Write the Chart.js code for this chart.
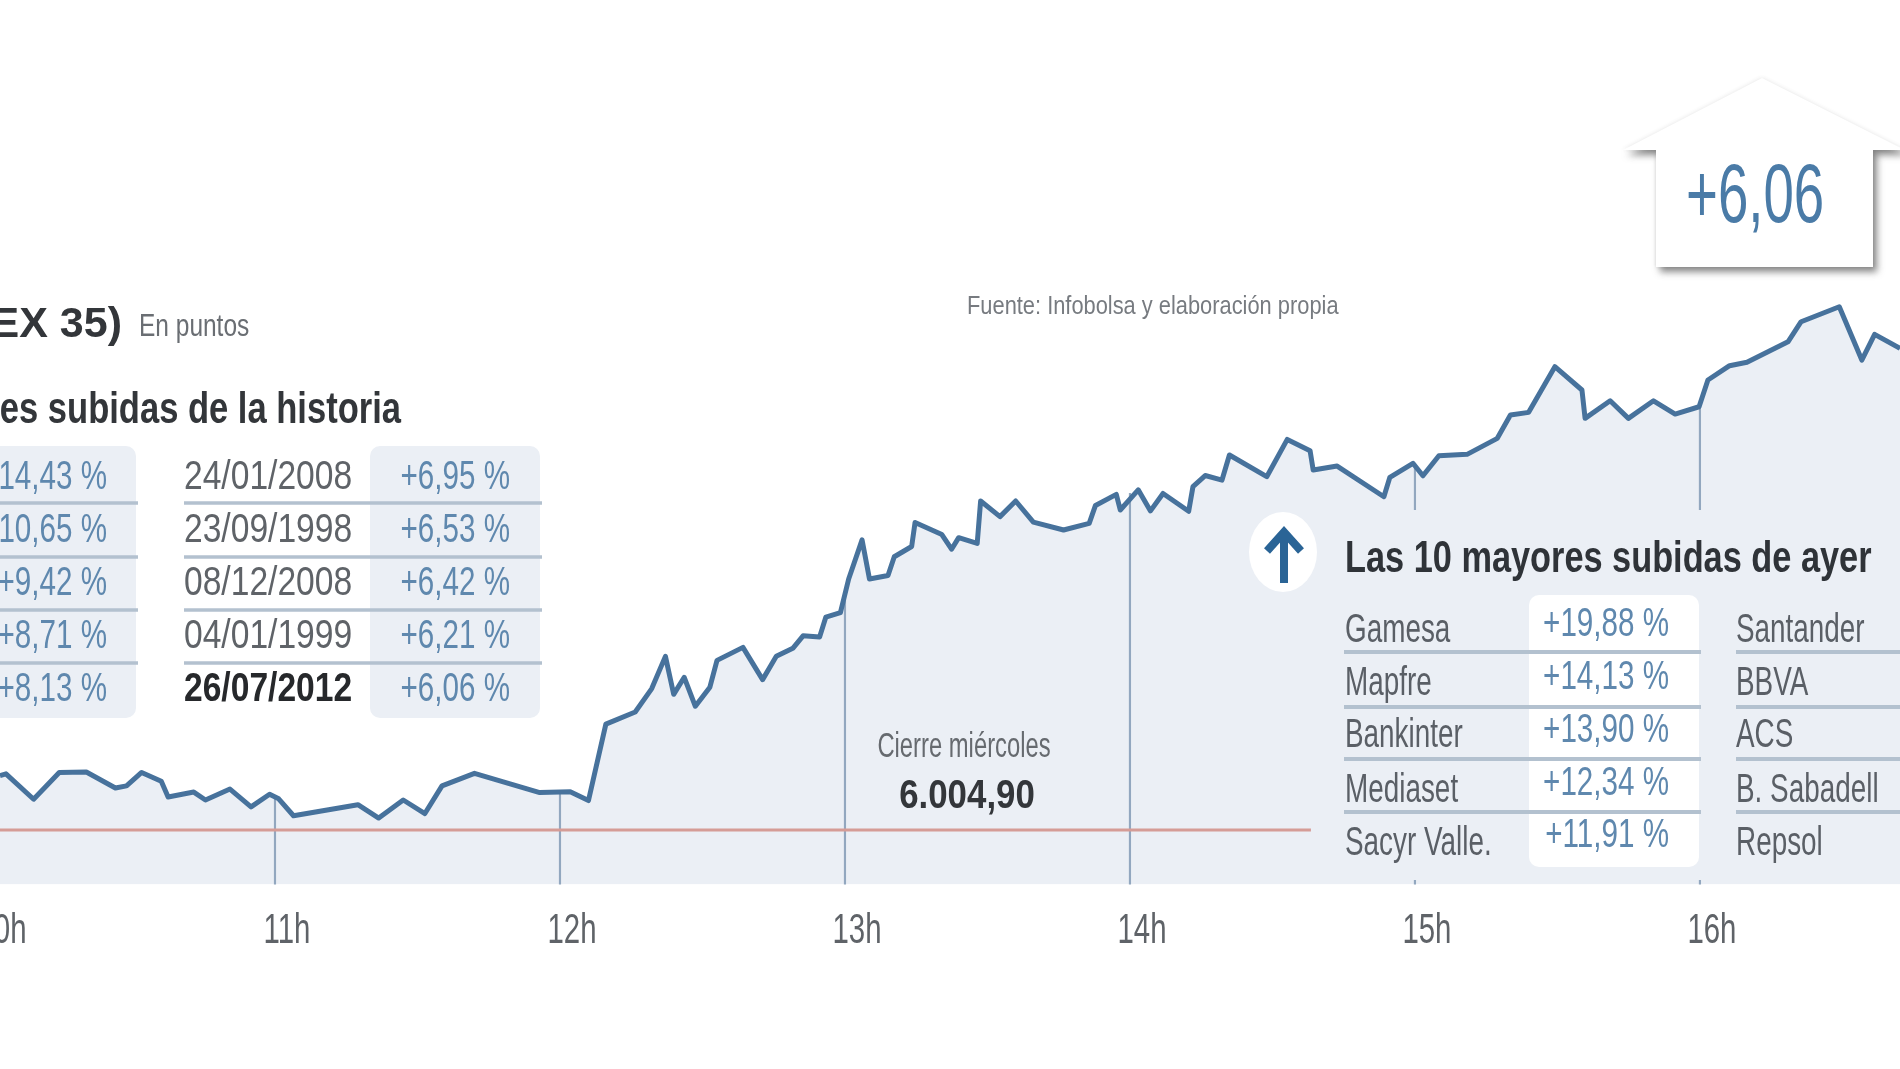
<!DOCTYPE html>
<html lang="es">
<head>
<meta charset="utf-8">
<title>IBEX 35</title>
<script src="https://cdn.jsdelivr.net/npm/chart.js@4/dist/chart.umd.min.js"></script>
<style>
  html, body { margin: 0; padding: 0; width: 1900px; height: 1069px; overflow: hidden; background: #fff; }
  #ibex-chart { position: absolute; left: -10px; top: 0; filter: blur(0.7px); }
</style>
</head>
<body>
<canvas id="ibex-chart" width="1910" height="1069"></canvas>
<script>
// Hours of the session (decimal) and index level
const times = [
  10.035, 10.056, 10.153, 10.243, 10.338, 10.440, 10.479, 10.532, 10.601, 10.625,
  10.715, 10.756, 10.842, 10.916, 10.981, 11.013, 11.065, 11.291, 11.364, 11.450,
  11.526, 11.586, 11.700, 11.929, 12.036, 12.100, 12.161, 12.264, 12.322, 12.370,
  12.399, 12.436, 12.475, 12.526, 12.551, 12.642, 12.711, 12.759, 12.817, 12.853,
  12.911, 12.933, 12.984, 13.013, 13.060, 13.086, 13.151, 13.173, 13.234, 13.246,
  13.340, 13.374, 13.399, 13.464, 13.476, 13.544, 13.599, 13.661, 13.767, 13.857,
  13.879, 13.952, 13.966, 14.029, 14.072, 14.116, 14.206, 14.221, 14.264, 14.323,
  14.349, 14.480, 14.552, 14.632, 14.643, 14.727, 14.891, 14.912, 14.993, 15.028,
  15.084, 15.183, 15.289, 15.335, 15.399, 15.491, 15.586, 15.597, 15.685, 15.749,
  15.837, 15.913, 15.997, 16.028, 16.104, 16.165, 16.309, 16.355, 16.489, 16.568,
  16.613, 16.702,
];
const points = [
  6046.8, 6048.1, 6028.6, 6049.2, 6049.5, 6037.2, 6038.9, 6049.2, 6042.4, 6030.3,
  6034.1, 6028.0, 6036.4, 6022.7, 6032.4, 6028.9, 6015.9, 6024.4, 6014.1, 6028.0,
  6017.6, 6038.9, 6048.5, 6033.7, 6034.4, 6027.6, 6086.4, 6095.7, 6113.7, 6138.5,
  6109.3, 6122.4, 6100.1, 6114.8, 6135.4, 6145.4, 6120.6, 6138.5, 6144.7, 6154.3,
  6153.3, 6168.7, 6172.1, 6198.0, 6228.1, 6198.0, 6200.7, 6215.1, 6223.0, 6241.5,
  6232.2, 6220.9, 6229.8, 6225.4, 6258.0, 6246.0, 6258.0, 6241.8, 6235.7, 6240.8,
  6254.6, 6263.1, 6251.1, 6266.6, 6250.4, 6263.8, 6250.1, 6269.0, 6277.6, 6274.1,
  6293.4, 6276.7, 6305.4, 6296.7, 6281.8, 6284.9, 6261.3, 6276.2, 6287.0, 6277.4,
  6292.8, 6293.9, 6306.2, 6324.1, 6326.2, 6361.3, 6343.4, 6321.6, 6335.1, 6321.6,
  6335.1, 6324.9, 6330.5, 6351.1, 6362.1, 6364.7, 6380.5, 6395.9, 6407.4, 6366.4,
  6386.2, 6375.4,
];

const hourLabels = ["10h", "11h", "12h", "13h", "14h", "15h", "16h"];
const dropHours = [11, 12, 13, 14, 15, 16];
const dropLevels = [6029, 6034, 6185, 6264, 6285, 6330];

const closeTimes = [10, 14.635];
const closeLevels = [6004.9, 6004.9];

const historyRisesLeft = ["+14,43 %", "+10,65 %", "+9,42 %", "+8,71 %", "+8,13 %"];
const historyDates = ["24/01/2008", "23/09/1998", "08/12/2008", "04/01/1999", "26/07/2012"];
const historyRisesRight = ["+6,95 %", "+6,53 %", "+6,42 %", "+6,21 %", "+6,06 %"];

const topNames = ["Gamesa", "Mapfre", "Bankinter", "Mediaset", "Sacyr Valle."];
const topRises = ["+19,88 %", "+14,13 %", "+13,90 %", "+12,34 %", "+11,91 %"];
const nextNames = ["Santander", "BBVA", "ACS", "B. Sabadell", "Repsol"];

const BLUE = "#47729c";
const BAND = "#ebeff5";
const RULE = "#b3c1cf";

const label = (ctx, text, x, y, size, opts = {}) => {
  ctx.save();
  ctx.translate(x, y);
  ctx.scale(opts.squeeze || 1, 1);
  ctx.font = `${opts.bold ? "bold " : ""}${size}px "Liberation Sans"`;
  ctx.fillStyle = opts.color || "#5a5f66";
  ctx.textAlign = opts.align || "left";
  ctx.textBaseline = "alphabetic";
  ctx.fillText(text, 0, 0);
  ctx.restore();
};

const pill = (ctx, x, y, w, h, color) => {
  ctx.fillStyle = color;
  ctx.beginPath();
  ctx.roundRect(x, y, w, h, 10);
  ctx.fill();
};

const rules = (ctx, x0, x1, ys, width) => {
  ctx.strokeStyle = RULE;
  ctx.lineWidth = width;
  ys.forEach((y) => {
    ctx.beginPath();
    ctx.moveTo(x0, y);
    ctx.lineTo(x1, y);
    ctx.stroke();
  });
};

const housePath = (ctx) => {
  ctx.beginPath();
  ctx.moveTo(1762, 78);
  ctx.lineTo(1905, 150);
  ctx.lineTo(1873, 150);
  ctx.lineTo(1873, 267);
  ctx.lineTo(1656, 267);
  ctx.lineTo(1656, 150);
  ctx.lineTo(1623, 150);
  ctx.closePath();
};

// Everything around the curve: the house, the two tables and the notes
const annotations = {
  id: "annotations",
  afterDraw(chart) {
    const ctx = chart.ctx;
    const xScale = chart.scales.x;

    // hour labels come from the x scale, squeezed like the newspaper type
    xScale.ticks.forEach((tick) => {
      label(ctx, tick.label, xScale.getPixelForValue(tick.value) + 12, 943, 42, {
        squeeze: 0.7,
        align: "center",
        color: "#5f6368",
      });
    });

    ctx.save();
    ctx.translate(10, 0); // page coordinates

    // the table sits on top of the 15h and 16h lines
    ctx.fillStyle = BAND;
    ctx.fillRect(1380, 510, 530, 370);

    // house with the day's rise: faint shadow on the roof, hard one under the walls
    ctx.save();
    ctx.shadowColor = "rgba(60,60,60,0.14)";
    ctx.shadowBlur = 4;
    ctx.fillStyle = "#fff";
    housePath(ctx);
    ctx.fill();
    ctx.restore();
    ctx.save();
    ctx.beginPath();
    ctx.rect(1600, 150, 320, 140);
    ctx.clip();
    ctx.shadowColor = "rgba(60,60,60,0.6)";
    ctx.shadowBlur = 7;
    ctx.shadowOffsetX = 4;
    ctx.shadowOffsetY = 5;
    ctx.fillStyle = "#fff";
    housePath(ctx);
    ctx.fill();
    ctx.restore();
    label(ctx, "+6,06", 1686, 222, 84, { squeeze: 0.65, color: "#4a7ba7" });

    label(ctx, "EX 35)", 122, 337, 43, { bold: true, align: "right", color: "#33363a" });
    label(ctx, "En puntos", 139, 336, 31, { squeeze: 0.79, color: "#6a6e73" });
    label(ctx, "Fuente: Infobolsa y elaboración propia", 967, 314, 26, { squeeze: 0.84, color: "#777b80" });

    // biggest rises in history
    label(ctx, "es subidas de la historia", 401, 423, 44, { bold: true, squeeze: 0.785, align: "right", color: "#33363a" });
    pill(ctx, -30, 446, 166, 272, BAND);
    pill(ctx, 370, 446, 170, 272, BAND);
    const historyBase = [489, 542, 595, 648, 701];
    const historyRules = [503, 557, 610, 663];
    rules(ctx, -30, 138, historyRules, 3.5);
    rules(ctx, 184, 542, historyRules, 3.5);
    historyBase.forEach((y, i) => {
      const last = i === historyBase.length - 1;
      label(ctx, historyRisesLeft[i], 107, y, 40, { squeeze: 0.74, align: "right", color: "#5f88ae" });
      label(ctx, historyDates[i], 184, y, 40, { squeeze: 0.84, bold: last, color: last ? "#26282b" : "#5f6368" });
      label(ctx, historyRisesRight[i], 510, y, 40, { squeeze: 0.74, align: "right", color: "#5f88ae" });
    });

    // wednesday close
    label(ctx, "Cierre miércoles", 964, 757, 35, { squeeze: 0.68, align: "center", color: "#666a6f" });
    label(ctx, "6.004,90", 967, 808, 41, { bold: true, squeeze: 0.85, align: "center", color: "#33363a" });

    // arrow badge
    ctx.fillStyle = "#fff";
    ctx.beginPath();
    ctx.ellipse(1283, 552, 34, 40, 0, 0, Math.PI * 2);
    ctx.fill();
    ctx.strokeStyle = "#2a6496";
    ctx.lineWidth = 8;
    ctx.beginPath();
    ctx.moveTo(1284, 583);
    ctx.lineTo(1284, 532);
    ctx.moveTo(1267, 551);
    ctx.lineTo(1284, 532);
    ctx.lineTo(1301, 551);
    ctx.stroke();

    // biggest rises of the day
    label(ctx, "Las 10 mayores subidas de ayer", 1345, 572, 44, { bold: true, squeeze: 0.78, color: "#2f3338" });
    pill(ctx, 1529, 595, 170, 272, "#fff");
    const topRules = [652, 707, 759, 812];
    rules(ctx, 1344, 1701, topRules, 4);
    rules(ctx, 1736, 1910, topRules, 4);
    const nameBase = [642, 695, 747, 802, 855];
    const riseBase = [636, 689, 742, 795, 847];
    nameBase.forEach((y, i) => {
      label(ctx, topNames[i], 1345, y, 41, { squeeze: 0.68 });
      label(ctx, nextNames[i], 1736, y, 41, { squeeze: 0.68 });
      label(ctx, topRises[i], 1669, riseBase[i], 40, { squeeze: 0.74, align: "right", color: "#5f88ae" });
    });

    ctx.restore();
  },
};

new Chart(document.getElementById("ibex-chart").getContext("2d"), {
  type: "line",
  data: {
    datasets: [
      {
        data: times.map((t, i) => ({ x: t, y: points[i] })),
        borderColor: BLUE,
        borderWidth: 5,
        borderJoinStyle: "round",
        backgroundColor: BAND,
        fill: "start",
        pointRadius: 0,
        tension: 0,
        order: 1,
      },
      {
        data: closeTimes.map((t, i) => ({ x: t, y: closeLevels[i] })),
        borderColor: "#d59c96",
        borderWidth: 3,
        pointRadius: 0,
        order: 2,
      },
      {
        type: "bar",
        data: dropHours.map((h, i) => ({ x: h, y: dropLevels[i] })),
        backgroundColor: "#92a7bf",
        barThickness: 1.5,
        order: 3,
      },
    ],
  },
  options: {
    responsive: false,
    animation: false,
    devicePixelRatio: 1,
    layout: { padding: 0, autoPadding: false },
    plugins: {
      legend: { display: false },
      tooltip: { enabled: false },
      filler: { drawTime: "beforeDatasetsDraw" },
    },
    scales: {
      x: {
        type: "linear",
        min: 10,
        max: 16.702,
        offset: false,
        grid: { display: false },
        border: { display: false },
        afterFit: (scale) => { scale.height = 184.5; },
        ticks: {
          display: false,
          stepSize: 1,
          autoSkip: false,
          includeBounds: false,
          maxRotation: 0,
          callback: (value) => hourLabels[value - 10],
        },
      },
      y: {
        display: false,
        min: 5963,
        max: 6643.4,
      },
    },
  },
  plugins: [annotations],
});
</script>
</body>
</html>
